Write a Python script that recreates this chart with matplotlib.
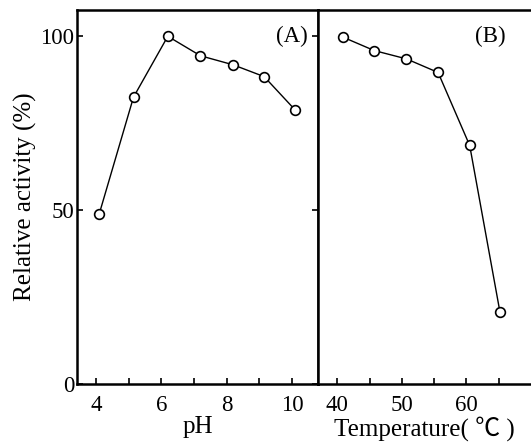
import matplotlib
matplotlib.use("Agg")
import matplotlib.pyplot as plt

plt.rcParams['font.family'] = ['Liberation Serif', 'DejaVu Serif', 'DejaVu Sans']

# panel A: pH profile
ph = [4.1, 5.15, 6.2, 7.2, 8.2, 9.15, 10.1]
ph_activity = [48.9, 82.5, 100.0, 94.4, 91.8, 88.4, 78.8]

# panel B: temperature profile
temp = [40.8, 45.7, 50.7, 55.6, 60.5, 65.2]
temp_activity = [99.8, 95.9, 93.5, 89.6, 68.6, 20.6]

ph_ticks = [4, 6, 8, 10]
temp_ticks = [40, 50, 60]
y_ticks = [0, 50, 100]

dpi = 100
fig = plt.figure(figsize=(531 / dpi, 444 / dpi), dpi=dpi)
ax1 = fig.add_axes([0.145, 0.135, 0.454, 0.842])
ax2 = fig.add_axes([0.599, 0.135, 0.401, 0.842])

style = dict(color='black', lw=1.0, marker='o', ms=7, mfc='white',
             mec='black', mew=1.2)
ax1.plot(ph, ph_activity, **style)
ax2.plot(temp, temp_activity, **style)

ax1.set_xlim(3.42, 10.8)
ax2.set_xlim(37.0, 70.0)
for ax in (ax1, ax2):
    ax.set_ylim(0, 107.5)
    for s in ax.spines.values():
        s.set_linewidth(1.8)

ax1.set_xticks(ph_ticks)
ax1.set_xticks([5, 7, 9], minor=True)
ax1.set_yticks(y_ticks)
ax1.tick_params(axis='x', which='both', direction='in', length=4,
                width=1.2, labelsize=16.5, pad=8)
ax1.tick_params(axis='y', direction='in', length=4, width=1.2,
                labelsize=16.5, pad=2, right=True)

ax2.set_xticks(temp_ticks)
ax2.set_xticks([45, 55, 65], minor=True)
ax2.set_yticks([])
ax2.spines['right'].set_visible(False)
ax2.tick_params(axis='x', which='both', direction='in', length=4,
                width=1.2, labelsize=16.5, pad=8)

ax1.set_xlabel('pH', fontsize=18, labelpad=0)
ax2.set_xlabel('Temperature( ℃ )', fontsize=18, labelpad=0,
               family=['Liberation Serif', 'Noto Sans CJK JP'])
ax1.set_ylabel('Relative activity (%)', fontsize=18, labelpad=2)

ax1.text(0.89, 0.93, '(A)', transform=ax1.transAxes, fontsize=16.5,
         ha='center', va='center')
ax2.text(0.81, 0.93, '(B)', transform=ax2.transAxes, fontsize=16.5,
         ha='center', va='center')

plt.savefig('out.png', dpi=dpi)
